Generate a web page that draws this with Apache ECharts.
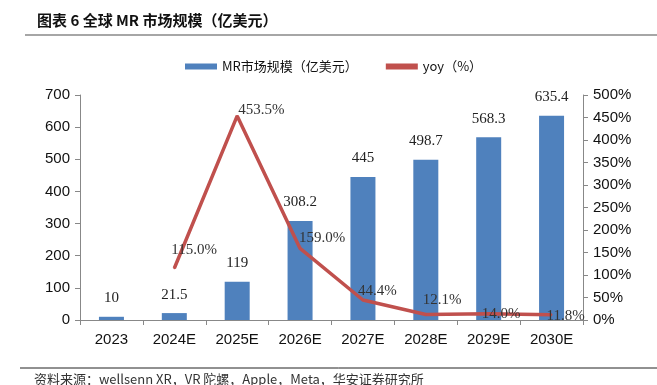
<!DOCTYPE html>
<html><head><meta charset="utf-8">
<script src="https://cdn.jsdelivr.net/npm/echarts@6/dist/echarts.min.js"></script>
<style>html,body{margin:0;padding:0;background:#fff}#c{width:657px;height:385px}</style>
</head><body><div id="c"></div>
<script>
const categories = ['2023','2024E','2025E','2026E','2027E','2028E','2029E','2030E'];
const marketSize = [10, 21.5, 119, 308.2, 445, 498.7, 568.3, 635.4];
const yoy = [null, 115.0, 453.5, 159.0, 44.4, 12.1, 14.0, 11.8];
const leftTicks = [0, 700, 100];
const rightTicks = [0, 500, 50];

const chart = echarts.init(document.getElementById('c'));
const labelOffsets = [null, [-4,-18], [0,-6], [-2,-10], [-6,-9], [-4,-14], [-8,0], [-6,1]];
chart.setOption({
  animation: false,
  graphic: [
    {type:'text', left: 37, top: 13, style:{text:'图表 6 全球 MR 市场规模（亿美元）', font:'bold 15px "Noto Sans CJK SC"', fill:'#111'}},
    {type:'line', shape:{x1:25,y1:35,x2:657,y2:35}, style:{stroke:'#888', lineWidth:1.5}},
    {type:'line', shape:{x1:20,y1:368,x2:657,y2:368}, style:{stroke:'#222', lineWidth:1}},
    {type:'text', left: 34, top: 373, style:{text:'资料来源：wellsenn XR，VR 陀螺，Apple，Meta，华安证券研究所', font:'13px "Noto Sans CJK SC"', fill:'#333'}}
  ],
  legend: {
    top: 55, left: 180, itemGap: 28, itemWidth: 32, itemHeight: 6,
    textStyle: {fontFamily:'"Noto Sans CJK SC"', fontSize: 13, color:'#111'},
    data: [
      {name:'MR市场规模（亿美元）', icon:'rect'},
      {name:'yoy（%）', icon:'rect', itemStyle:{color:'#C0504D', opacity:1}}
    ]
  },
  grid: {left: 80, right: 74, top: 95, bottom: 65},
  xAxis: {
    type:'category', data: categories,
    axisLine:{lineStyle:{color:'#888'}},
    axisTick:{show:true, alignWithLabel:false, length:5, lineStyle:{color:'#888'}},
    axisLabel:{fontFamily:'"Liberation Sans", Arial', fontSize:15, color:'#111', margin:12}
  },
  yAxis: [
    {type:'value', min:leftTicks[0], max:leftTicks[1], interval:leftTicks[2],
     axisLine:{show:true, lineStyle:{color:'#888'}},
     axisTick:{show:true, length:5, lineStyle:{color:'#888'}},
     splitLine:{show:false},
     axisLabel:{fontFamily:'"Liberation Sans", Arial', fontSize:15, color:'#111', margin:10}},
    {type:'value', min:rightTicks[0], max:rightTicks[1], interval:rightTicks[2],
     axisLine:{show:true, lineStyle:{color:'#888'}},
     axisTick:{show:true, length:5, lineStyle:{color:'#888'}},
     splitLine:{show:false},
     axisLabel:{fontFamily:'"Liberation Sans", Arial', fontSize:15, color:'#111', margin:10, formatter:'{value}%'}}
  ],
  series: [
    {name:'MR市场规模（亿美元）', type:'bar', data: marketSize, barWidth: 25,
     itemStyle:{color:'#4F81BD'},
     label:{show:true, position:'top', distance:11, fontFamily:'"Liberation Serif", "Times New Roman"', fontSize:15, color:'#222'}},
    {name:'yoy（%）', type:'line', yAxisIndex:1,
     data: yoy.map((v,i)=> v==null? '-' : {value:v, label:{show:true, offset: labelOffsets[i]}}),
     symbol:'circle', symbolSize:2, showSymbol:true, lineStyle:{color:'#C0504D', width:3.5}, itemStyle:{color:'#C0504D'},
     label:{show:true, position:'right', distance:0, fontFamily:'"Liberation Serif", "Times New Roman"', fontSize:15, color:'#333', formatter: p => Number(p.value).toFixed(1)+'%'}}
  ]
});
</script></body></html>
